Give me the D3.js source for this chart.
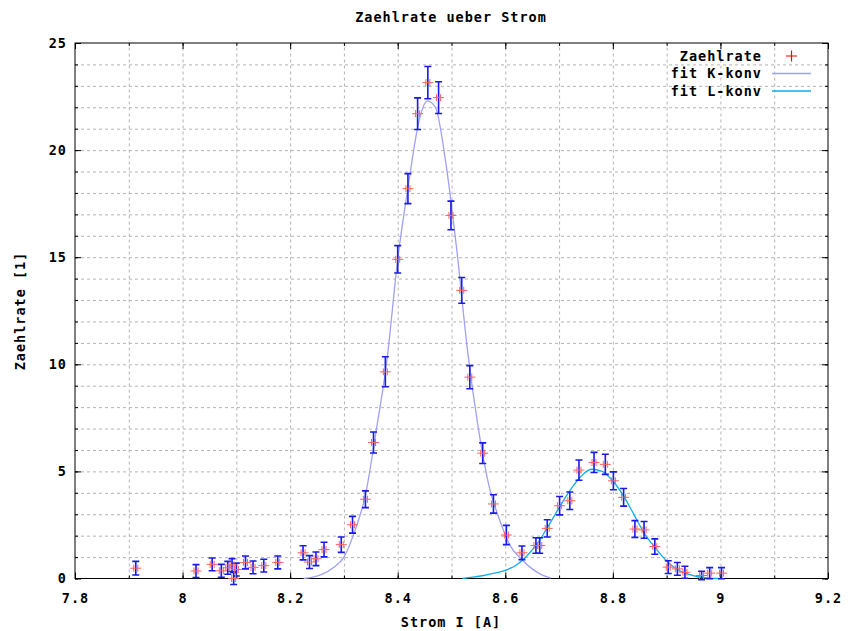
<!DOCTYPE html>
<html>
    <head>
        <meta charset="utf-8">
        <style>
            body { margin: 0; background: #fff; }
            text { font-family: "DejaVu Sans Mono", monospace; font-weight: bold; font-size: 13.5px; letter-spacing: 1px; fill: #000; }
            .tick line { stroke: #000; }
            .grid .tick line { stroke: #b4b4b4; stroke-dasharray: 3,3; }
            .grid path { display: none; }
        </style>
    </head>
    <body>
        <svg width="849" height="631"></svg>
        <script src="https://d3js.org/d3.v7.min.js"></script>
        <script>

            // Messwerte: Strom I [A], Zaehlrate, Fehler
            var strom = [7.913, 8.025, 8.055, 8.072, 8.084, 8.092, 8.095, 8.100, 8.117, 8.131, 8.151, 8.177,
                         8.224, 8.236, 8.248, 8.263, 8.295, 8.316, 8.340, 8.355, 8.377, 8.400, 8.419, 8.437,
                         8.456, 8.476, 8.499, 8.519, 8.534, 8.558, 8.578, 8.602, 8.631, 8.657, 8.664, 8.678,
                         8.701, 8.720, 8.737, 8.765, 8.786, 8.801, 8.820, 8.841, 8.858, 8.878, 8.903, 8.920,
                         8.934, 8.965, 8.980, 9.002];
            var rate = [0.48, 0.35, 0.66, 0.36, 0.50, 0.63, 0.0, 0.42, 0.75, 0.52, 0.60, 0.75,
                        1.20, 0.77, 0.92, 1.35, 1.58, 2.51, 3.70, 6.35, 9.65, 14.9, 18.2, 21.7,
                        23.15, 22.45, 16.95, 13.45, 9.40, 5.85, 3.48, 2.03, 1.20, 1.54, 1.54, 2.34,
                        3.40, 3.63, 5.06, 5.42, 5.33, 4.56, 3.79, 2.31, 2.27, 1.49, 0.53, 0.45,
                        0.29, 0.14, 0.25, 0.25];
            var fehler = [0.32, 0.30, 0.30, 0.30, 0.30, 0.30, 0.28, 0.30, 0.30, 0.30, 0.30, 0.30,
                          0.33, 0.30, 0.32, 0.34, 0.36, 0.39, 0.39, 0.49, 0.70, 0.64, 0.70, 0.74,
                          0.75, 0.74, 0.67, 0.60, 0.54, 0.48, 0.43, 0.45, 0.32, 0.36, 0.36, 0.40,
                          0.43, 0.41, 0.47, 0.47, 0.47, 0.42, 0.41, 0.39, 0.39, 0.36, 0.30, 0.30,
                          0.28, 0.20, 0.26, 0.26];

            // fit-Kurven
            var kX = [8.225, 8.24, 8.26, 8.28, 8.30, 8.32, 8.34, 8.36, 8.38, 8.40, 8.42, 8.44, 8.455,
                      8.47, 8.49, 8.51, 8.53, 8.55, 8.57, 8.59, 8.61, 8.63, 8.65, 8.67, 8.685];
            var kY = [0.0, 0.05, 0.2, 0.5, 1.0, 2.2, 3.9, 6.9, 10.2, 14.9, 18.4, 21.4, 22.3,
                      22.0, 19.3, 15.3, 10.6, 7.0, 4.3, 2.7, 1.5, 0.9, 0.45, 0.15, 0.02];
            var lX = [8.52, 8.54, 8.56, 8.58, 8.60, 8.62, 8.64, 8.66, 8.68, 8.70, 8.72, 8.74, 8.76,
                      8.78, 8.80, 8.82, 8.84, 8.86, 8.88, 8.90, 8.92, 8.94, 8.96, 8.98, 9.00];
            var lY = [0.0, 0.06, 0.14, 0.25, 0.38, 0.62, 1.05, 1.65, 2.45, 3.3, 4.1, 4.75, 5.1,
                      5.0, 4.55, 3.85, 2.95, 2.05, 1.4, 0.82, 0.42, 0.2, 0.07, 0.02, 0.0];

            var xTicks = [7.8, 8, 8.2, 8.4, 8.6, 8.8, 9, 9.2];
            var yTicks = [0, 5, 10, 15, 20, 25];
            var xMinor = d3.range(78, 93).map(function(d){ return d / 10; });
            var yMinor = d3.range(0, 26);

            var legend = ["Zaehlrate", "fit K-konv", "fit L-konv"];

            function translator(x, y){
                return 'translate(' + x + ',' + y + ')';
            }

            var svg = d3.select('svg');
            var margin = {left: 75, top: 43, right: 21, bottom: 52.5};
            var width = 849 - margin.left - margin.right;
            var height = 631 - margin.top - margin.bottom;

            var x = d3.scaleLinear().domain([7.8, 9.2]).range([0, width]);
            var y = d3.scaleLinear().domain([0, 25]).range([height, 0]);

            var plot = svg.append('g').attr('transform', translator(margin.left, margin.top));

            // Gitter
            plot.append('g').attr('class', 'grid')
                .attr('transform', translator(0, height))
                .call(d3.axisBottom(x).tickValues(xMinor.slice(1, -1)).tickSize(-height).tickFormat(''));
            plot.append('g').attr('class', 'grid')
                .call(d3.axisLeft(y).tickValues(yMinor.slice(1, -1)).tickSize(-width).tickFormat(''));

            // Rahmen
            plot.append('rect')
                .attr('width', width).attr('height', height)
                .attr('fill', 'none').attr('stroke', '#000').attr('stroke-width', 1);

            function ticks(axis, vals, size, fmt, pos){
                var g = plot.append('g').attr('transform', pos);
                g.call(axis.tickValues(vals).tickSize(-size).tickPadding(size > 4 ? 14 : 0)
                        .tickFormat(fmt));
                g.select('.domain').remove();
                return g;
            }

            // kleine Ticks
            ticks(d3.axisBottom(x), xMinor, 3, '', translator(0, height));
            ticks(d3.axisTop(x), xMinor, 3, '', translator(0, 0));
            ticks(d3.axisLeft(y), yMinor, 3, '', translator(0, 0));
            ticks(d3.axisRight(y), yMinor, 3, '', translator(width, 0));

            // grosse Ticks mit Beschriftung
            var xa = ticks(d3.axisBottom(x), xTicks, 6, d3.format(''), translator(0, height));
            xa.selectAll('text').attr('y', 15);
            ticks(d3.axisTop(x), xTicks, 6, '', translator(0, 0));
            var ya = ticks(d3.axisLeft(y), yTicks, 6, d3.format(''), translator(0, 0));
            ya.selectAll('text').attr('x', -8);
            ticks(d3.axisRight(y), yTicks, 6, '', translator(width, 0));
            plot.selectAll('.tick text').attr('fill', '#000').style('font-size', null).style('font-family', null);

            // Fit-Kurven
            var line = d3.line()
                .x(function(d){ return x(d[0]); })
                .y(function(d){ return y(d[1]); })
                .curve(d3.curveMonotoneX);

            plot.append('path')
                .datum(d3.zip(kX, kY))
                .attr('fill', 'none').attr('stroke', '#a0a0f4').attr('stroke-width', 1.3)
                .attr('d', line);
            plot.append('path')
                .datum(d3.zip(lX, lY))
                .attr('fill', 'none').attr('stroke', '#10aee8').attr('stroke-width', 1.3)
                .attr('d', line);

            // Fehlerbalken
            var pts = d3.zip(strom, rate, fehler);
            var bars = plot.append('g').attr('stroke', '#1a1aee').attr('stroke-width', 1.6);
            bars.selectAll('.bar').data(pts).enter().append('path')
                .attr('fill', 'none')
                .attr('d', function(d){
                    var cx = x(d[0]), y0 = y(d[1] - d[2]), y1 = y(d[1] + d[2]);
                    return 'M' + cx + ',' + y0 + 'V' + y1 +
                        'M' + (cx - 3.5) + ',' + y0 + 'H' + (cx + 3.5) +
                        'M' + (cx - 3.5) + ',' + y1 + 'H' + (cx + 3.5);
                });

            // Messpunkte
            var marks = plot.append('g').attr('stroke', '#ff6060').attr('stroke-width', 1).attr('fill', 'none');
            marks.selectAll('.pt').data(pts).enter().append('path')
                .attr('d', function(d){
                    var cx = x(d[0]), cy = y(d[1]);
                    return 'M' + (cx - 5.5) + ',' + cy + 'H' + (cx + 5.5) +
                        'M' + (cx - 2) + ',' + (cy - 3.5) + 'V' + (cy + 3.5) +
                        'M' + (cx + 2) + ',' + (cy - 3.5) + 'V' + (cy + 3.5);
                });

            // Legende
            var leg = svg.append('g').attr('transform', translator(762, 56));
            legend.forEach(function(t, i){
                var row = leg.append('g').attr('transform', translator(0, i * 17.5));
                row.append('text').attr('text-anchor', 'end').attr('dy', '0.36em').text(t);
                if (i === 0) {
                    row.append('path').attr('d', 'M24,0H35M29.5,-5.5V5.5')
                        .attr('stroke', '#ff0000').attr('stroke-width', 1.2);
                } else {
                    row.append('line').attr('x1', 10).attr('x2', 49)
                        .attr('stroke', i === 1 ? '#a0a0f4' : '#10aee8').attr('stroke-width', 1.3);
                }
            });

            // Titel und Achsenbeschriftung
            svg.append('text').attr('x', 451).attr('y', 22).attr('text-anchor', 'middle')
                .text('Zaehlrate ueber Strom');
            svg.append('text').attr('x', 451).attr('y', 627).attr('text-anchor', 'middle')
                .text('Strom I [A]');
            svg.append('text').attr('transform', translator(25, 311) + ' rotate(-90)')
                .attr('text-anchor', 'middle').text('Zaehlrate [1]');

        </script>
    </body>
</html>
